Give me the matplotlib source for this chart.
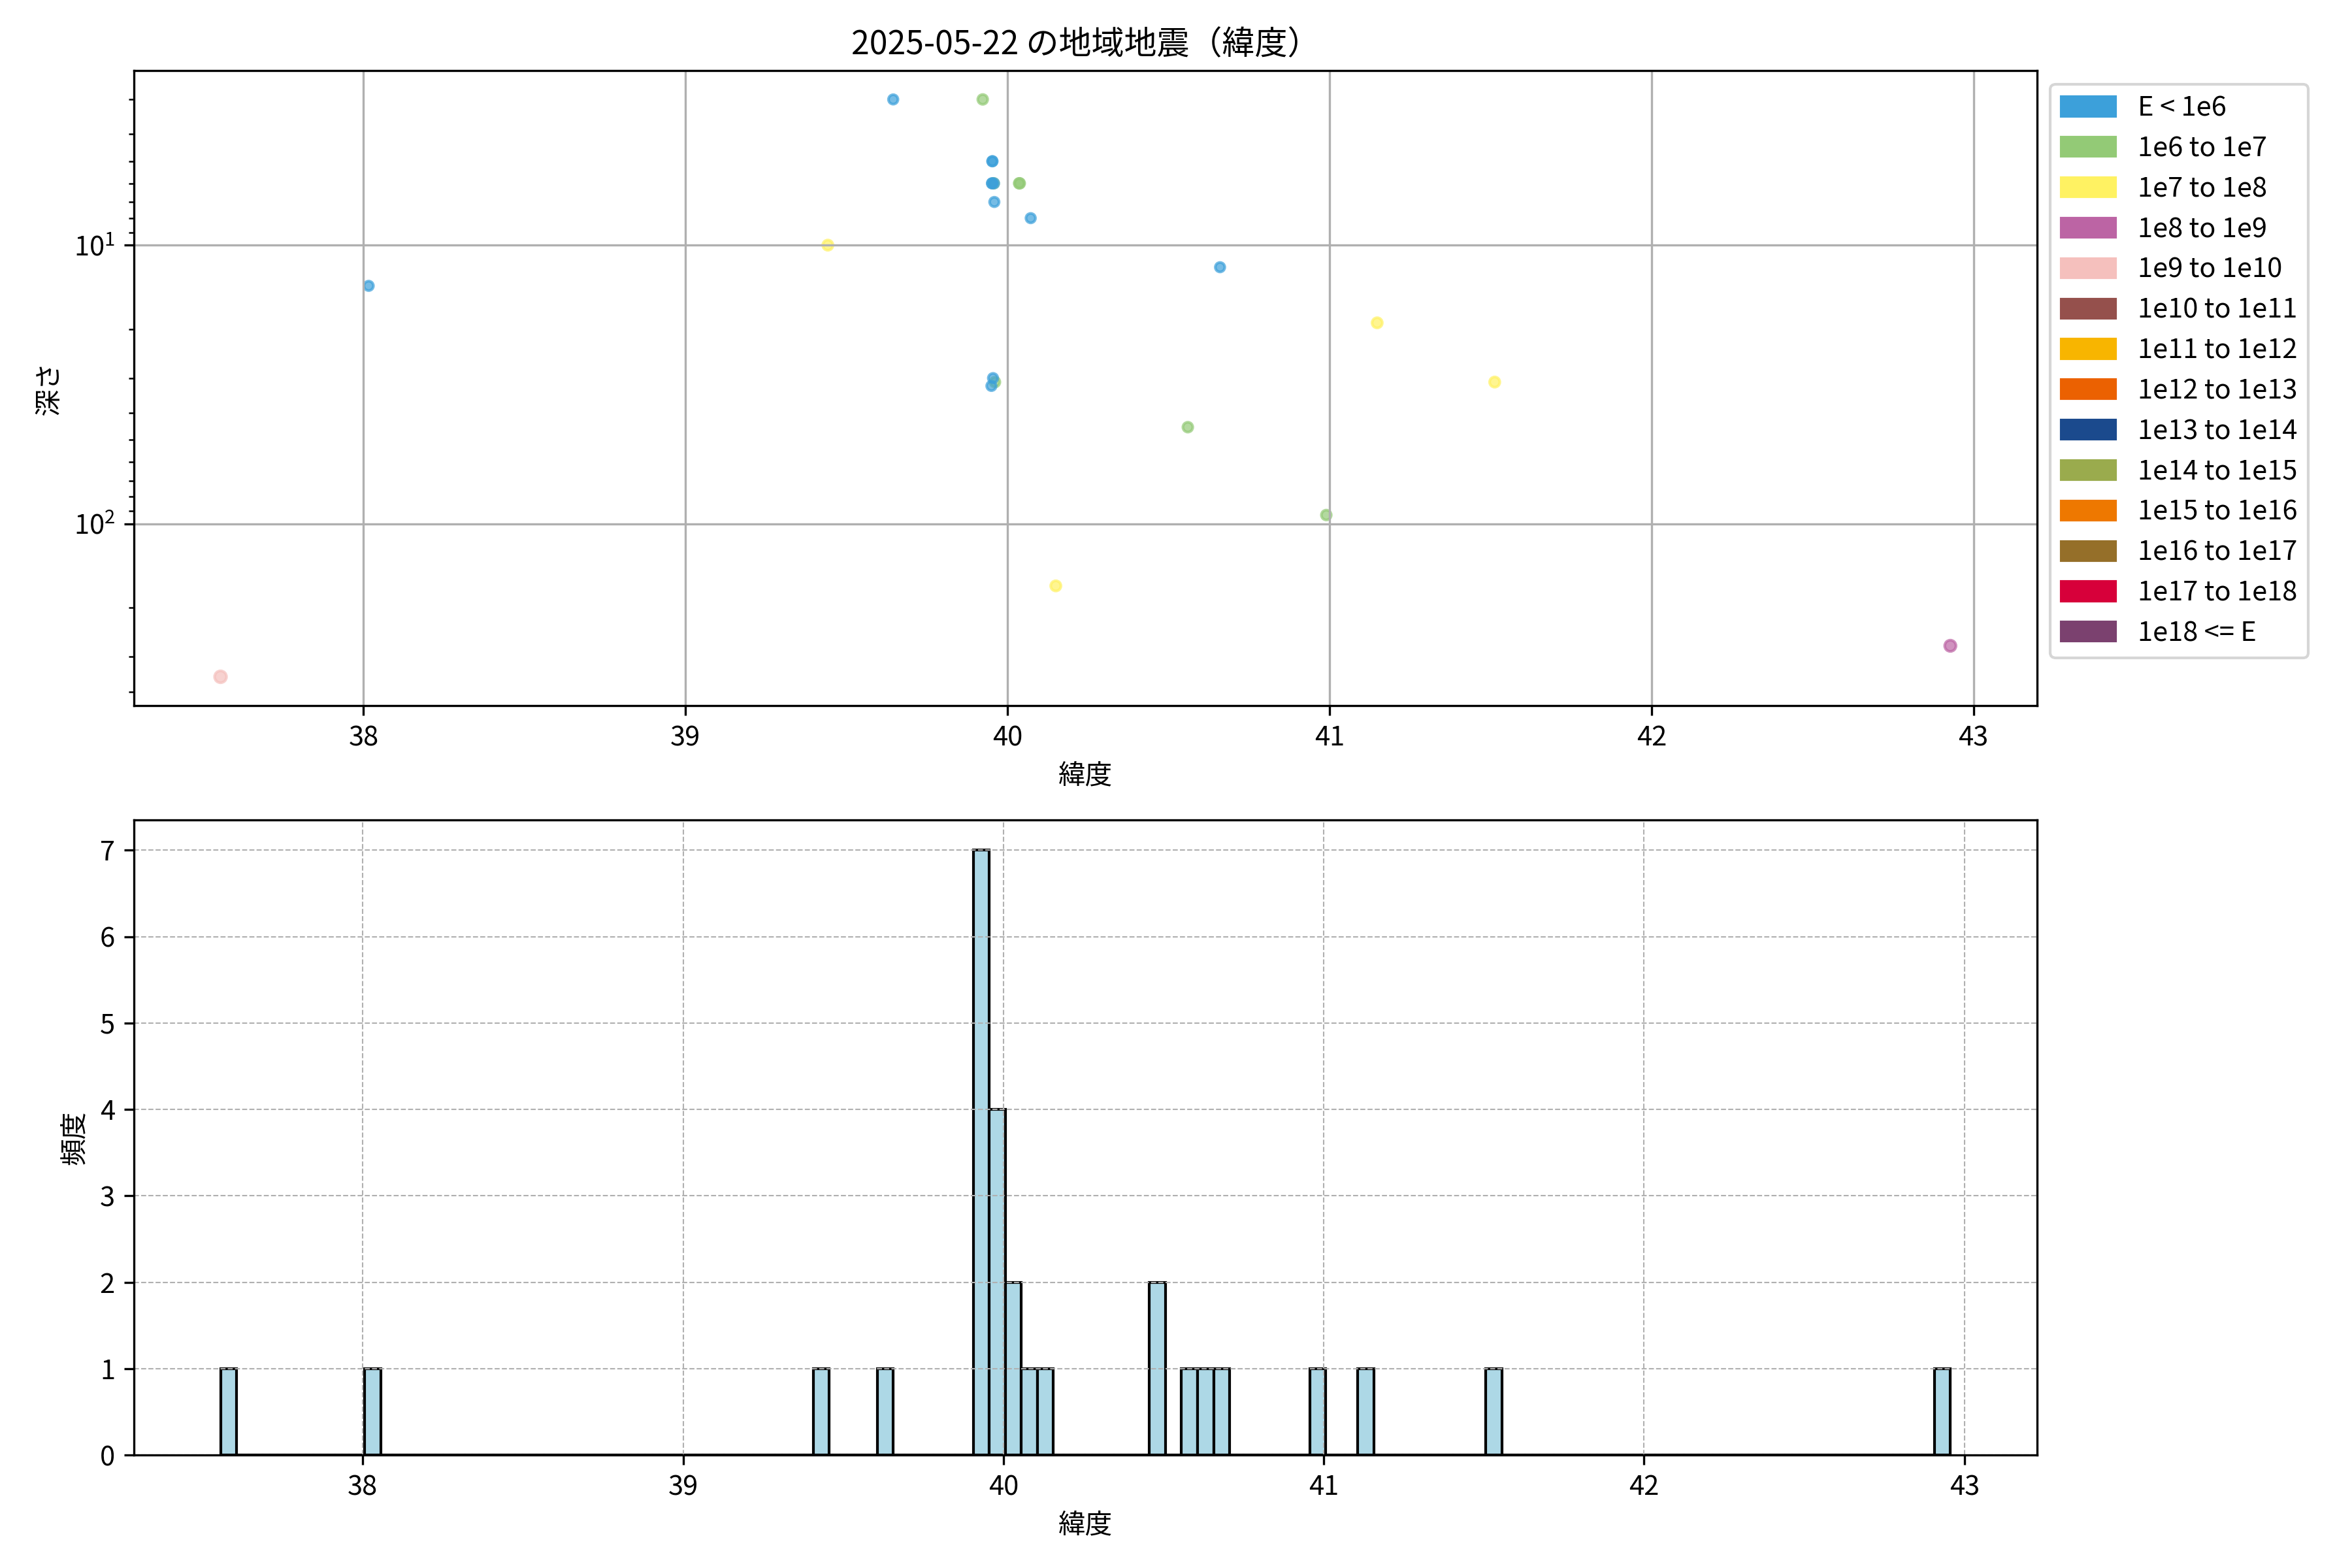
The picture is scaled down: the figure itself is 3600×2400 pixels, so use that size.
import numpy as np
import matplotlib.pyplot as plt
from matplotlib.patches import Patch

plt.rcParams['font.family'] = ['Noto Sans CJK JP', 'DejaVu Sans']

date = "2025-05-22"

# 震源の緯度, 深さ (km, 0 = ごく浅い), エネルギー区分 (0: E < 1e6, 1: 1e6 to 1e7, ...)
lat = [37.556, 38.016, 39.442, 39.645, 39.923, 39.957, 39.961, 39.953, 39.953, 39.952,
       39.952, 39.955, 39.950, 39.958, 39.959, 40.036, 40.038, 40.072, 40.150, 40.470,
       40.490, 40.560, 40.630, 40.660, 40.990, 41.148, 41.513, 42.928]
depth = [354, 14, 10, 3, 3, 6, 31, 5, 5, 6,
         6, 30, 32, 6, 7, 6, 6, 8, 167, 0,
         0, 45, 0, 12, 93, 19, 31, 274]
e_class = [4, 0, 2, 0, 1, 1, 1, 0, 0, 0,
           0, 0, 0, 0, 0, 1, 1, 0, 2, 0,
           0, 1, 0, 0, 1, 2, 2, 3]

class_labels = ["E < 1e6", "1e6 to 1e7", "1e7 to 1e8", "1e8 to 1e9", "1e9 to 1e10",
                "1e10 to 1e11", "1e11 to 1e12", "1e12 to 1e13", "1e13 to 1e14",
                "1e14 to 1e15", "1e15 to 1e16", "1e16 to 1e17", "1e17 to 1e18", "1e18 <= E"]
class_colors = ["#3ca0da", "#93ca76", "#fff262", "#bc64a4", "#f5c0bd",
                "#95504c", "#f8b500", "#eb6101", "#1b4a8d",
                "#9aab4d", "#ee7800", "#956f29", "#d7003a", "#7b416f"]
class_sizes = [12, 13, 14, 17, 19, 21, 23, 25, 27, 29, 31, 33, 35, 37]

lat = np.array(lat)
depth = np.array(depth, dtype=float)
e_class = np.array(e_class)

fig, (ax1, ax2) = plt.subplots(2, 1, figsize=(12, 8), dpi=300)
fig.subplots_adjust(left=0.057, right=0.866, top=0.955, bottom=0.072, hspace=0.18)

# 上: 緯度 vs 深さ（ごく浅いものは対数軸に乗らないので除く）
mask = depth > 0
ax1.scatter(lat[mask], depth[mask],
            c=[class_colors[k] for k in e_class[mask]],
            s=[class_sizes[k] for k in e_class[mask]],
            alpha=0.7)
ax1.set_yscale('log')
ax1.invert_yaxis()
ax1.set_title(f"{date} の地域地震（緯度）", fontsize=12)
ax1.set_xlabel("緯度")
ax1.set_ylabel("深さ")
ax1.grid(True)
handles = [Patch(color=c, label=l) for c, l in zip(class_colors, class_labels)]
ax1.legend(handles=handles, loc='upper left', bbox_to_anchor=(1.0, 1.0))

# 下: 緯度のヒストグラム
bins = np.arange(lat.min(), lat.max() + 0.05, 0.05)
ax2.hist(lat, bins=bins, color='lightblue', edgecolor='black')
ax2.set_xlabel("緯度")
ax2.set_ylabel("頻度")
ax2.grid(True, linestyle='--', linewidth=0.5)

plt.savefig("out.png", dpi=300)
